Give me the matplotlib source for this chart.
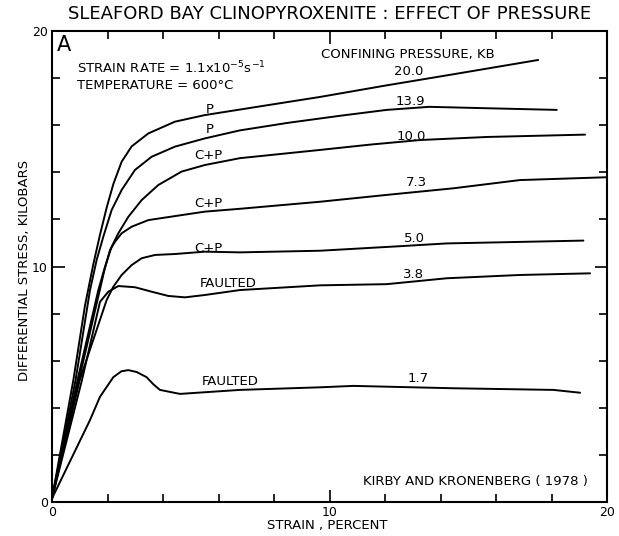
import matplotlib
matplotlib.use("Agg")
import matplotlib.pyplot as plt

# ---- data (strain %, differential stress kbar) ----
p200_x = [0.0, 0.77, 1.19, 1.49, 1.73, 1.97, 2.21, 2.51, 2.87, 3.47, 4.43, 5.51, 7.5, 9.66, 12.0, 14.5, 17.52]
p200_y = [0.15, 5.18, 8.35, 10.1, 11.35, 12.5, 13.5, 14.45, 15.1, 15.65, 16.15, 16.43, 16.8, 17.2, 17.68, 18.17, 18.77]

p139_x = [0.0, 0.85, 1.37, 1.61, 1.85, 2.15, 2.51, 2.99, 3.59, 4.43, 5.51, 6.77, 8.5, 10.38, 12.06, 13.6, 15.67, 18.19]
p139_y = [0.15, 5.18, 9.0, 10.28, 11.27, 12.4, 13.25, 14.1, 14.66, 15.09, 15.44, 15.78, 16.1, 16.4, 16.65, 16.78, 16.72, 16.65]

p100_x = [0.0, 0.92, 1.67, 1.91, 2.15, 2.39, 2.75, 3.23, 3.83, 4.67, 5.51, 6.77, 9.66, 11.5, 13.26, 15.67, 19.21]
p100_y = [0.15, 5.18, 9.0, 9.99, 10.84, 11.41, 12.11, 12.82, 13.46, 14.03, 14.31, 14.6, 14.95, 15.18, 15.37, 15.5, 15.6]

p73_x = [0.0, 0.97, 1.89, 2.09, 2.27, 2.51, 2.87, 3.47, 4.43, 5.51, 6.77, 9.66, 12.06, 14.46, 16.86, 19.99]
p73_y = [0.15, 5.18, 9.85, 10.7, 11.05, 11.41, 11.69, 11.97, 12.14, 12.33, 12.45, 12.75, 13.04, 13.32, 13.67, 13.79]

p50_x = [0.0, 1.0, 1.97, 2.21, 2.51, 2.87, 3.23, 3.71, 4.43, 5.51, 6.77, 9.66, 12.66, 14.22, 19.15]
p50_y = [0.15, 5.18, 8.58, 9.14, 9.64, 10.06, 10.35, 10.49, 10.53, 10.63, 10.6, 10.67, 10.87, 10.98, 11.1]

p38_x = [0.0, 1.08, 1.73, 2.03, 2.39, 2.99, 3.59, 4.19, 4.79, 5.51, 6.77, 9.66, 12.06, 14.22, 16.86, 19.39]
p38_y = [0.15, 5.18, 8.5, 8.93, 9.17, 9.12, 8.93, 8.75, 8.69, 8.79, 9.0, 9.2, 9.25, 9.5, 9.64, 9.71]

p17_x = [0.0, 1.37, 1.73, 2.21, 2.5, 2.75, 3.05, 3.41, 3.65, 3.89, 4.61, 6.77, 9.66, 10.86, 14.46, 18.07, 19.03]
p17_y = [0.15, 3.48, 4.47, 5.3, 5.55, 5.6, 5.52, 5.3, 5.0, 4.76, 4.59, 4.76, 4.87, 4.93, 4.83, 4.76, 4.64]

curves = [(p200_x, p200_y), (p139_x, p139_y), (p100_x, p100_y), (p73_x, p73_y),
          (p50_x, p50_y), (p38_x, p38_y), (p17_x, p17_y)]

pressure_labels = ["20.0", "13.9", "10.0", "7.3", "5.0", "3.8", "1.7"]
pressure_lab_x = [12.84, 12.93, 12.93, 13.14, 13.05, 13.02, 13.18]
pressure_lab_y = [18.27, 17.0, 15.54, 13.56, 11.2, 9.64, 5.25]

mode_labels = ["P", "P", "C+P", "C+P", "C+P", "FAULTED", "FAULTED"]
mode_lab_x = [5.69, 5.69, 5.63, 5.63, 5.63, 6.35, 6.41]
mode_lab_y = [16.67, 15.8, 14.73, 12.68, 10.77, 9.29, 5.11]

# ---- figure ----
fig = plt.figure(figsize=(6.19, 5.36), dpi=100)
ax = fig.add_axes([52/619, 34/536, 555/619, 471/536])
ax.set_xlim(0, 20)
ax.set_ylim(0, 20)

for cx, cy in curves:
    ax.plot(cx, cy, color="black", lw=1.4, solid_capstyle="round", solid_joinstyle="round")

fs = 9.5
for t, x, y in zip(pressure_labels, pressure_lab_x, pressure_lab_y):
    ax.text(x, y, t, ha="center", va="center", fontsize=fs)
for t, x, y in zip(mode_labels, mode_lab_x, mode_lab_y):
    ax.text(x, y, t, ha="center", va="center", fontsize=fs)

ax.text(12.84, 19.02, "CONFINING PRESSURE, KB", ha="center", va="center", fontsize=fs)
ax.text(0.91, 18.44, r"STRAIN RATE = 1.1x10$^{-5}$s$^{-1}$", ha="left", va="center", fontsize=fs)
ax.text(0.91, 17.68, "TEMPERATURE = 600°C", ha="left", va="center", fontsize=fs)
ax.text(0.42, 19.4, "A", ha="center", va="center", fontsize=15)
ax.text(19.32, 0.85, "KIRBY AND KRONENBERG ( 1978 )", ha="right", va="center", fontsize=fs)

# ticks
ax.set_xticks([0, 10, 20])
ax.set_yticks([0, 10, 20])
ax.set_xticks(range(0, 21, 2), minor=True)
ax.set_yticks(range(0, 21, 2), minor=True)
ax.tick_params(which="both", direction="in", top=True, right=True, width=1.2, color="black")
ax.tick_params(which="major", length=9, labelsize=9, pad=3)
ax.tick_params(which="minor", length=6)
for s in ax.spines.values():
    s.set_linewidth(1.5)

fig.text(330/619, 1 - 14/536, "SLEAFORD BAY CLINOPYROXENITE : EFFECT OF PRESSURE",
         ha="center", va="center", fontsize=13)
fig.text(327/619, 1 - 525/536, "STRAIN , PERCENT", ha="center", va="center", fontsize=fs)
fig.text(25/619, 1 - 270/536, "DIFFERENTIAL STRESS, KILOBARS", ha="center", va="center",
         rotation=90, fontsize=fs)

fig.savefig("out.png", dpi=100)
